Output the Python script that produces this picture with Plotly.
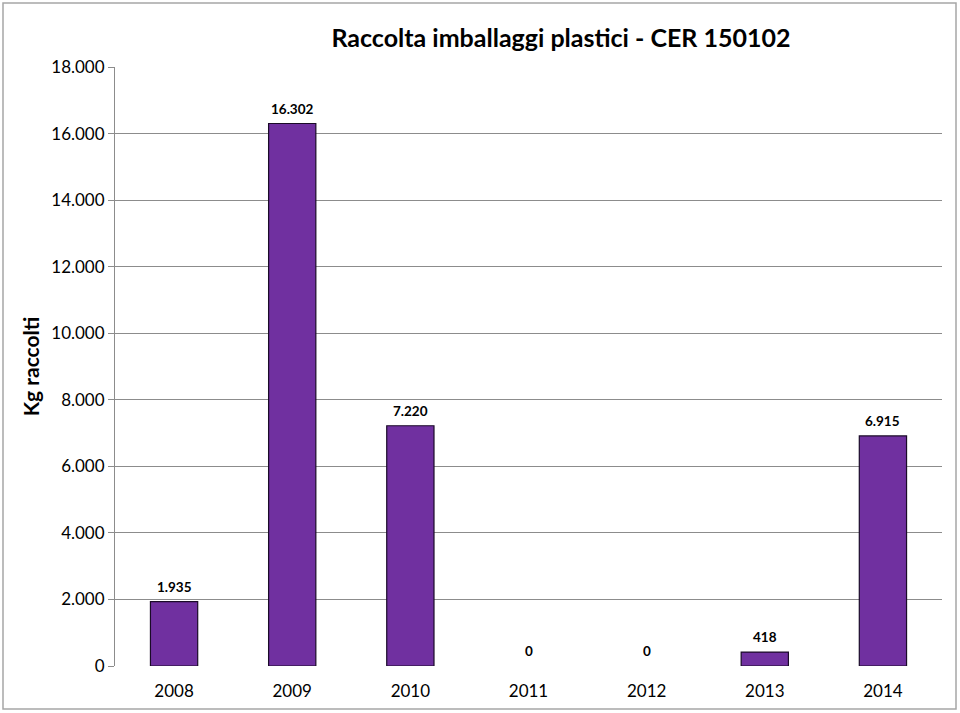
import plotly.graph_objects as go

years = ["2008", "2009", "2010", "2011", "2012", "2013", "2014"]
kg = [1935, 16302, 7220, 0, 0, 418, 6915]
labels = ["1.935", "16.302", "7.220", "0", "0", "418", "6.915"]
y_ticks = [0, 2000, 4000, 6000, 8000, 10000, 12000, 14000, 16000, 18000]

W, H = 960, 713
L, R, T, B = 115, 18, 67, 47
pw, ph = W - L - R, H - T - B

def px(x):
    return (x - L) / pw

def py(y):
    return (H - B - y) / ph

font = "Lato, Open Sans, sans-serif"

fig = go.Figure(go.Bar(
    x=years, y=kg,
    marker=dict(color="#7030A0",
                line=dict(color="#1a0a28",
                          width=[1.2 if v > 0 else 0 for v in kg])),
    width=0.4, cliponaxis=False,
))

for i, (v, lab) in enumerate(zip(kg, labels)):
    fig.add_annotation(x=i, y=v, xref="x", yref="y", text=f"<b>{lab}</b>",
                       showarrow=False, yanchor="middle", yshift=15,
                       font=dict(family=font, size=13.5, color="black"))

fig.update_layout(
    width=W, height=H, autosize=False,
    margin=dict(l=L, r=R, t=T, b=B, autoexpand=False),
    paper_bgcolor="white", plot_bgcolor="white",
    separators=",.",
    showlegend=False,
    title=dict(text="<b>Raccolta imballaggi plastici - CER 150102</b>",
               x=px(561), xref="paper", xanchor="center",
               y=1 - 38 / H, yanchor="middle",
               font=dict(family=font, size=25, color="black")),
    xaxis=dict(type="category", categoryorder="array", categoryarray=years,
               range=[-0.5, len(years) - 0.5], automargin=False,
               showgrid=False, showline=False,
               ticks="outside", ticklen=10, tickcolor="rgba(0,0,0,0)",
               tickfont=dict(family=font, size=17, color="black")),
    yaxis=dict(range=[0, 18000], tickvals=y_ticks, tickformat=",d",
               automargin=False,
               showgrid=True, gridcolor="#8c8c8c", gridwidth=1,
               showline=True, linecolor="#8c8c8c", linewidth=1,
               ticks="outside", ticklen=6, tickcolor="#8c8c8c",
               zeroline=False,
               tickfont=dict(family=font, size=17, color="black"),
               title=dict(text="<b>Kg raccolti</b>", standoff=5,
                          font=dict(family=font, size=21, color="black"))),
    shapes=[dict(type="rect", xref="paper", yref="paper",
                 x0=px(3), x1=px(956), y0=py(709), y1=py(3),
                 line=dict(color="#a6a6a6", width=1.5), layer="below")],
)

fig.write_html("out.html")
